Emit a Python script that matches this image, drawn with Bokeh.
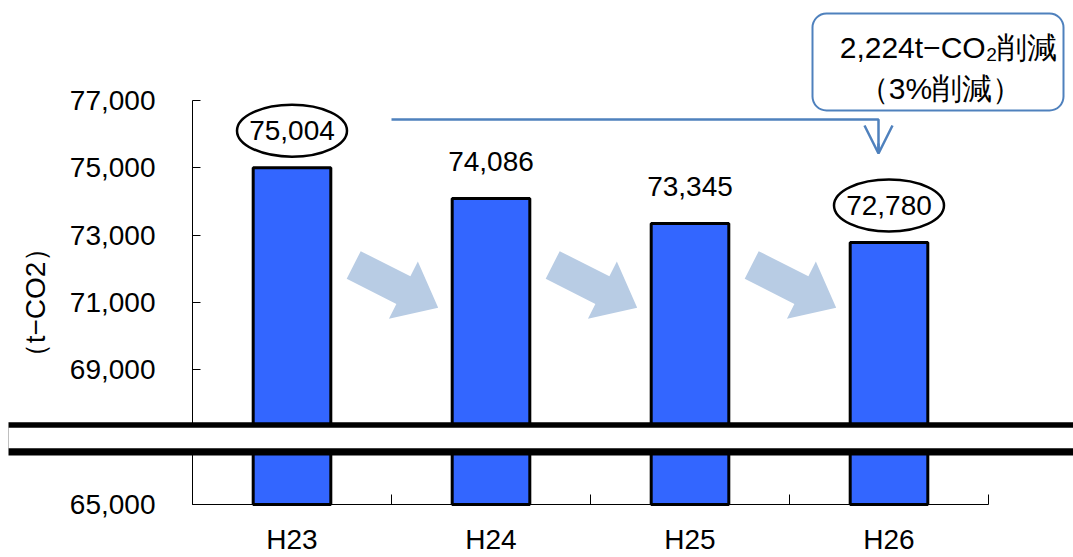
import math
from bokeh.plotting import figure
from bokeh.models import (Range1d, FixedTicker, NumeralTickFormatter, BoxAnnotation,
                          Label, Arrow, OpenHead)
from bokeh.core.properties import value
from bokeh.embed import file_html
from bokeh.resources import INLINE

# ---------------- data ----------------
categories = ["H23", "H24", "H25", "H26"]
emissions = [75004, 74086, 73345, 72780]
y_ticks = [65000, 69000, 71000, 73000, 75000, 77000]
highlighted = ["H23", "H26"]
callout_lines = ["2,224t−CO₂削減", "（3%削減）"]
y_label = "（t−CO2）"

# ---------------- layout ----------------
W, H = 1073, 557
AX_L, AX_R, AX_T, AX_B = 192, 988, 100, 504      # plot area in pixels
YA0, YA1 = 65000, 77000                          # value axis bounds
XA0, XA1 = -0.5, len(categories) - 0.5           # category axis bounds
px_x = (XA1 - XA0) / (AX_R - AX_L)               # data units per pixel
px_y = (YA1 - YA0) / (AX_B - AX_T)
X0 = XA0 - AX_L * px_x
X1 = XA1 + (W - AX_R) * px_x
Y0 = YA0 - (H - AX_B) * px_y
Y1 = YA1 + AX_T * px_y

FONT = "Liberation Sans"
BAR_BLUE = "#3366FF"
ARROW_BLUE = "#B8CCE4"
LINE_BLUE = "#4F81BD"

xs = list(range(len(categories)))

p = figure(width=W, height=H, x_range=Range1d(X0, X1), y_range=Range1d(Y0, Y1),
           output_backend="svg", toolbar_location=None, min_border=0)
p.outline_line_color = None
p.xgrid.visible = False
p.ygrid.visible = False
p.background_fill_color = "white"
p.border_fill_color = "white"

# ---------------- axes ----------------
xa = p.xaxis[0]
xa.fixed_location = YA0
xa.bounds = (XA0, XA1)
xa.ticker = FixedTicker(ticks=xs, minor_ticks=[i - 0.5 for i in range(len(categories) + 1)])
xa.major_label_overrides = {i: c for i, c in zip(xs, categories)}
xa.major_tick_in = 0
xa.major_tick_out = 0
xa.minor_tick_in = 10
xa.minor_tick_out = 0
xa.minor_tick_line_color = "black"
xa.axis_line_color = "black"
xa.major_label_text_font = FONT
xa.major_label_text_font_size = "28px"
xa.major_label_text_color = "black"
xa.major_label_standoff = 19

ya = p.yaxis[0]
ya.fixed_location = XA0
ya.bounds = (YA0, YA1)
ya.ticker = FixedTicker(ticks=y_ticks)
ya.formatter = NumeralTickFormatter(format="0,0")
ya.major_tick_in = 8
ya.major_tick_out = 0
ya.minor_tick_line_color = None
ya.axis_line_color = "black"
ya.major_tick_line_color = "black"
ya.major_label_text_font = FONT
ya.major_label_text_font_size = "28px"
ya.major_label_text_color = "black"
ya.major_label_standoff = 37
ya.axis_label = y_label
ya.axis_label_text_font = FONT
ya.axis_label_text_font_size = "28px"
ya.axis_label_text_font_style = "normal"
ya.axis_label_text_color = "black"
ya.axis_label_standoff = 16

# ---------------- decorative block arrows ----------------
shape = [(0, -15.5), (55.7, -15.5), (55.7, -32), (94.7, 0), (55.7, 32), (55.7, 15.5), (0, 15.5)]
ang = math.atan2(42.8, 84.5)
ux, uy = math.cos(ang), math.sin(ang)
nx, ny = -uy, ux
arrow_xs, arrow_ys = [], []
for i in range(len(categories) - 1):
    bx = xs[i] + 0.5 - 37.8 * px_x
    by = YA1 - 164.5 * px_y
    ax, ay = [], []
    for a, b in shape:
        sx = a * ux + b * nx
        sy = a * uy + b * ny
        ax.append(bx + sx * px_x)
        ay.append(by - sy * px_y)
    arrow_xs.append(ax)
    arrow_ys.append(ay)
p.patches(arrow_xs, arrow_ys, fill_color=ARROW_BLUE, line_color=None)

# ---------------- bars ----------------
p.vbar(x=xs, top=emissions, bottom=YA0, width=0.39, fill_color=BAR_BLUE,
       line_color="black", line_width=3)

# value labels
lab_off = 37 * px_y
p.text(x=xs, y=[v + lab_off for v in emissions], text=[f"{v:,}" for v in emissions],
       text_align="center", text_baseline="middle", text_font=value(FONT),
       text_font_size="28px", text_color="black")

# ellipses around first / last
hx = [xs[categories.index(c)] for c in highlighted]
hy = [emissions[categories.index(c)] + lab_off for c in highlighted]
p.ellipse(x=hx, y=hy, width=110, height=52, width_units="screen", height_units="screen",
          fill_color=None, line_color="black", line_width=2.5)

# ---------------- connector to callout ----------------
vx = xs[-1] - 10.5 * px_x
ly = YA1 - 19 * px_y
tip_y = YA1 - 53 * px_y
p.line(x=[xs[0] + 0.5, vx, vx], y=[ly, ly, tip_y + 2 * px_y], line_color=LINE_BLUE, line_width=2.5)
p.add_layout(Arrow(end=OpenHead(size=28, line_color=LINE_BLUE, line_width=2.5),
                   x_start=vx, y_start=tip_y + 10 * px_y, x_end=vx, y_end=tip_y,
                   line_color=LINE_BLUE, line_width=2.5))

# ---------------- axis break ----------------
p.add_layout(BoxAnnotation(left=8, left_units="screen",
                           bottom=YA0 + 49 * px_y, top=YA0 + 82.3 * px_y,
                           fill_color="black", fill_alpha=1, line_color=None))
p.add_layout(BoxAnnotation(left=8, left_units="screen",
                           bottom=YA0 + 56.3 * px_y, top=YA0 + 76.7 * px_y,
                           fill_color="white", fill_alpha=1, line_color=None))

# ---------------- callout box ----------------
p.add_layout(BoxAnnotation(left=812, right=1063, top=H - 13, bottom=H - 110,
                           left_units="screen", right_units="screen",
                           top_units="screen", bottom_units="screen",
                           fill_color="white", fill_alpha=1, line_color=LINE_BLUE,
                           line_alpha=1, line_width=2, border_radius=14))
p.add_layout(Label(x=948, y=H - 47, x_units="screen", y_units="screen", text=callout_lines[0],
                   text_align="center", text_baseline="middle", text_font=FONT,
                   text_font_size="30px", text_color="black"))
p.add_layout(Label(x=940, y=H - 88, x_units="screen", y_units="screen", text=callout_lines[1],
                   text_align="center", text_baseline="middle", text_font=FONT,
                   text_font_size="30px", text_color="black"))

open("out.html", "w").write(file_html(p, INLINE))
